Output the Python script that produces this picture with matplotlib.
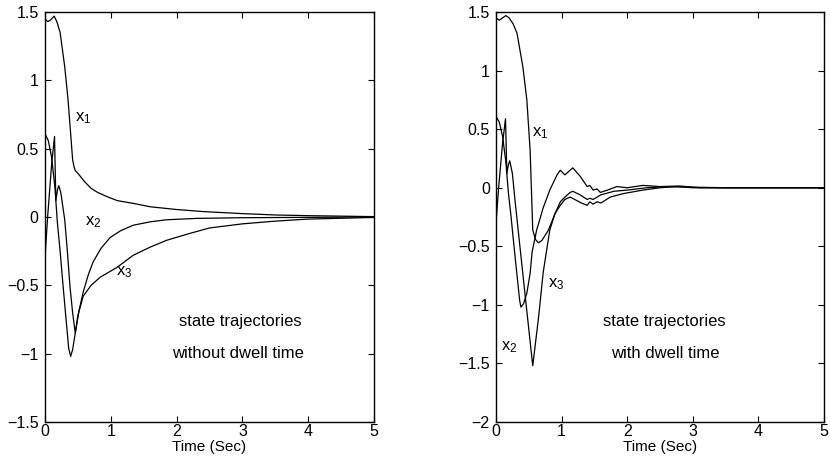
import numpy as np
import matplotlib
matplotlib.use("Agg")
import matplotlib.pyplot as plt

plt.rcParams['font.family'] = ['Liberation Sans', 'DejaVu Sans']
plt.rcParams['mathtext.default'] = 'regular'

# ---- left panel: without dwell time ----
t1_a = [0, 0.04, 0.08, 0.14, 0.18, 0.23, 0.30, 0.35, 0.39, 0.42, 0.44, 0.46, 0.50, 0.60,
        0.70, 0.80, 0.94, 1.10, 1.34, 1.60, 2.00, 2.40, 3.00, 3.50, 4.00, 5.00]
x1_a = [1.45, 1.43, 1.44, 1.47, 1.43, 1.35, 1.10, 0.86, 0.61, 0.42, 0.37, 0.34, 0.32, 0.26,
        0.21, 0.18, 0.15, 0.12, 0.10, 0.075, 0.055, 0.04, 0.025, 0.015, 0.01, 0.003]

t2_a = [0, 0.05, 0.10, 0.15, 0.19, 0.23, 0.26, 0.30, 0.33, 0.36, 0.39, 0.42, 0.46, 0.52,
        0.58, 0.66, 0.73, 0.85, 0.99, 1.15, 1.34, 1.60, 1.85, 2.30, 3.00, 5.00]
x2_a = [0.61, 0.56, 0.44, 0.22, -0.05, -0.25, -0.42, -0.64, -0.80, -0.96, -1.02, -0.97, -0.85, -0.68,
        -0.55, -0.42, -0.33, -0.23, -0.15, -0.10, -0.06, -0.035, -0.02, -0.01, -0.005, 0.0]

t3_a = [0, 0.04, 0.10, 0.145, 0.165, 0.19, 0.21, 0.24, 0.30, 0.34, 0.38, 0.42, 0.46, 0.50,
        0.58, 0.70, 0.84, 1.09, 1.34, 1.60, 1.85, 2.20, 2.50, 3.00, 3.50, 4.00, 5.00]
x3_a = [-0.30, 0.0, 0.38, 0.59, 0.12, 0.20, 0.23, 0.18, -0.02, -0.25, -0.51, -0.70, -0.85, -0.72,
        -0.58, -0.50, -0.44, -0.37, -0.28, -0.22, -0.17, -0.12, -0.08, -0.05, -0.03, -0.015, -0.003]

# ---- right panel: with dwell time ----
t1_b = [0, 0.05, 0.10, 0.15, 0.20, 0.26, 0.32, 0.41, 0.47, 0.52, 0.56, 0.60, 0.645, 0.70,
        0.80, 0.90, 0.98, 1.05, 1.13, 1.17, 1.28, 1.39, 1.43, 1.48, 1.54, 1.60, 1.80, 2.00,
        2.30, 2.60, 3.00, 3.50, 5.00]
x1_b = [1.45, 1.43, 1.45, 1.47, 1.45, 1.40, 1.32, 1.03, 0.75, 0.32, -0.36, -0.44, -0.47, -0.45,
        -0.36, -0.22, -0.12, -0.08, -0.04, -0.03, -0.06, -0.10, -0.09, -0.10, -0.08, -0.06, -0.03, -0.02,
        0.0, 0.01, 0.005, 0.0, 0.0]

t2_b = [0, 0.05, 0.10, 0.15, 0.19, 0.23, 0.26, 0.30, 0.33, 0.36, 0.38, 0.42, 0.47, 0.52,
        0.55, 0.62, 0.72, 0.82, 0.93, 0.98, 1.05, 1.17, 1.28, 1.39, 1.43, 1.48, 1.54, 1.59,
        1.70, 1.84, 2.00, 2.24, 2.50, 2.80, 3.10, 5.00]
x2_b = [0.61, 0.56, 0.44, 0.22, -0.05, -0.25, -0.42, -0.64, -0.80, -0.96, -1.02, -0.99, -0.90, -0.73,
        -0.55, -0.36, -0.17, -0.02, 0.11, 0.15, 0.11, 0.17, 0.10, 0.01, 0.02, -0.02, -0.01, -0.04,
        -0.02, 0.01, 0.0, 0.02, 0.01, 0.015, 0.0, 0.0]

t3_b = [0, 0.04, 0.10, 0.145, 0.165, 0.19, 0.21, 0.25, 0.29, 0.37, 0.45, 0.56, 0.65, 0.72,
        0.82, 0.90, 0.98, 1.05, 1.13, 1.20, 1.30, 1.39, 1.43, 1.48, 1.54, 1.60, 1.74, 1.94,
        2.24, 2.50, 2.76, 3.00, 5.00]
x3_b = [-0.30, 0.0, 0.38, 0.59, 0.12, 0.20, 0.23, 0.12, -0.11, -0.53, -0.95, -1.52, -1.10, -0.72,
        -0.36, -0.22, -0.15, -0.10, -0.08, -0.10, -0.13, -0.15, -0.12, -0.14, -0.12, -0.13, -0.08, -0.05,
        -0.02, 0.0, 0.01, 0.0, 0.0]

xticks = [0, 1, 2, 3, 4, 5]
yticks_a = [-1.5, -1, -0.5, 0, 0.5, 1, 1.5]
ylabels_a = ['\u22121.5', '\u22121', '\u22120.5', '0', '0.5', '1', '1.5']
yticks_b = [-2, -1.5, -1, -0.5, 0, 0.5, 1, 1.5]
ylabels_b = ['\u22122', '\u22121.5', '\u22121', '\u22120.5', '0', '0.5', '1', '1.5']

fig = plt.figure(figsize=(8.3, 4.57), dpi=100)
ax1 = fig.add_axes([0.0542, 0.0766, 0.3964, 0.897])
ax2 = fig.add_axes([0.5976, 0.0766, 0.3952, 0.897])

lw = 0.9
ax1.plot(t1_a, x1_a, color='k', lw=lw)
ax1.plot(t2_a, x2_a, color='k', lw=lw)
ax1.plot(t3_a, x3_a, color='k', lw=lw)
ax2.plot(t1_b, x1_b, color='k', lw=lw)
ax2.plot(t2_b, x2_b, color='k', lw=lw)
ax2.plot(t3_b, x3_b, color='k', lw=lw)

for ax, yt, yl, lim in [(ax1, yticks_a, ylabels_a, (-1.5, 1.5)),
                        (ax2, yticks_b, ylabels_b, (-2, 1.5))]:
    ax.set_xlim(0, 5)
    ax.set_ylim(*lim)
    ax.set_xticks(xticks)
    ax.set_xticklabels([str(v) for v in xticks])
    ax.set_yticks(yt)
    ax.set_yticklabels(yl)
    ax.tick_params(direction='in', top=True, right=True, length=4, width=0.8,
                   labelsize=11.5)
    ax.tick_params(axis='x', pad=1.5)
    ax.tick_params(axis='y', pad=4.5)
    for s in ax.spines.values():
        s.set_linewidth(1.0)
    ax.set_xlabel('Time (Sec)', fontsize=11, labelpad=0.5)

# curve labels
ax1.text(0.58, 0.72, 'x$_1$', fontsize=12, ha='center', va='center')
ax1.text(0.74, -0.04, 'x$_2$', fontsize=12, ha='center', va='center')
ax1.text(1.2, -0.40, 'x$_3$', fontsize=12, ha='center', va='center')
ax2.text(0.68, 0.47, 'x$_1$', fontsize=12, ha='center', va='center')
ax2.text(0.2, -1.36, 'x$_2$', fontsize=12, ha='center', va='center')
ax2.text(0.92, -0.82, 'x$_3$', fontsize=12, ha='center', va='center')

ax1.text(0.593, 0.244, 'state trajectories', transform=ax1.transAxes,
         fontsize=12, ha='center', va='center')
ax1.text(0.588, 0.166, 'without dwell time', transform=ax1.transAxes,
         fontsize=12, ha='center', va='center')
ax2.text(0.512, 0.244, 'state trajectories', transform=ax2.transAxes,
         fontsize=12, ha='center', va='center')
ax2.text(0.515, 0.166, 'with dwell time', transform=ax2.transAxes,
         fontsize=12, ha='center', va='center')

fig.savefig('out.png', dpi=100)
